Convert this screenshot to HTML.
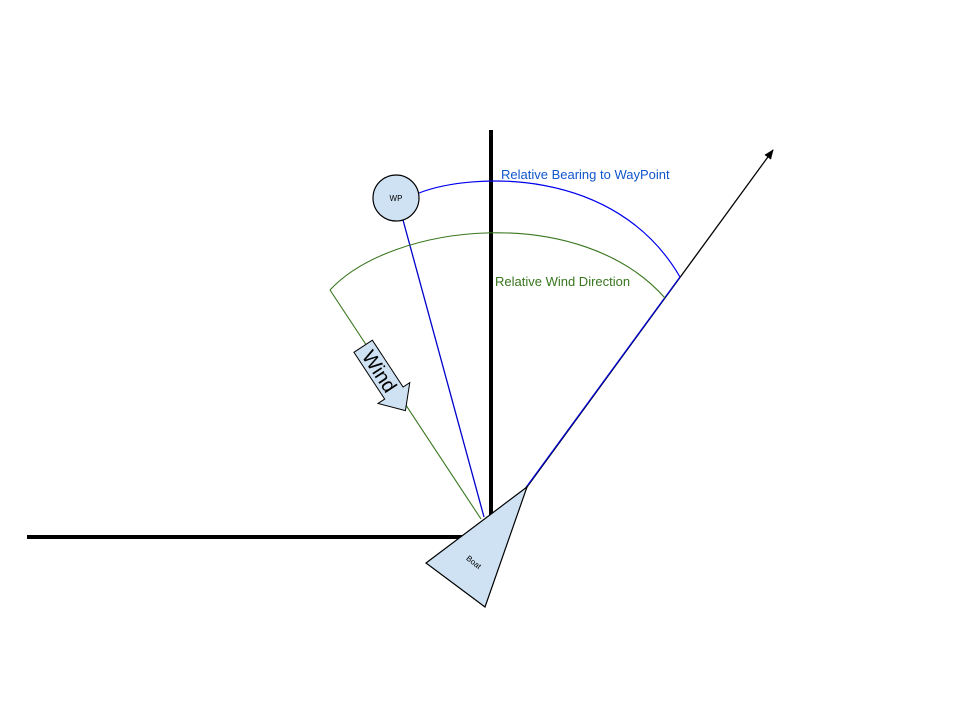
<!DOCTYPE html>
<html><head><meta charset="utf-8"><style>
html,body{margin:0;padding:0;background:#fff;}
svg{display:block;}
</style></head><body>
<svg width="960" height="720" viewBox="0 0 960 720" xmlns="http://www.w3.org/2000/svg">
  <defs>
    <marker id="ah" markerWidth="10" markerHeight="8" refX="9" refY="4" orient="auto" markerUnits="userSpaceOnUse">
      <path d="M0,0 L10,4 L0,8 Z" fill="#000"/>
    </marker>
  </defs>
  <rect width="960" height="720" fill="#fff"/>
  <line x1="27" y1="537" x2="475" y2="537" stroke="#000" stroke-width="4"/>
  <line x1="491" y1="130" x2="491" y2="522" stroke="#000" stroke-width="4"/>
  <line x1="527" y1="487" x2="773" y2="150" stroke="#000" stroke-width="1.3" marker-end="url(#ah)"/>
  <line x1="522" y1="493" x2="680" y2="277" stroke="#0000cc" stroke-width="1.3"/>
  <line x1="403" y1="220" x2="484" y2="517" stroke="#0000cc" stroke-width="1.3"/>
  <line x1="330" y1="290" x2="481" y2="519" stroke="#38761d" stroke-width="1.1"/>
  <path d="M419,193 C470,173 615,165 680,277" fill="none" stroke="#0000ee" stroke-width="1.2"/>
  <path d="M330,290 C392,223 580,202 665,298" fill="none" stroke="#38761d" stroke-width="1.1"/>
  <text x="501" y="179" font-family="Liberation Sans, sans-serif" font-size="13" fill="#1155cc">Relative Bearing to WayPoint</text>
  <text x="495" y="286" font-family="Liberation Sans, sans-serif" font-size="13" fill="#38761d">Relative Wind Direction</text>
  <g>
    <circle cx="396" cy="198" r="23" fill="#cfe2f3" stroke="#000" stroke-width="1.2"/>
    <text x="396" y="201" text-anchor="middle" font-family="Liberation Sans, sans-serif" font-size="8" fill="#000">WP</text>
  </g>
  <g transform="translate(384,378) rotate(56.7)">
    <path d="M-38,-11 L18,-11 L18,-19 L39,0 L18,19 L18,11 L-38,11 Z" fill="#cfe2f3" stroke="#000" stroke-width="1"/>
    <text x="-8" y="7" text-anchor="middle" font-family="Liberation Sans, sans-serif" font-size="20" fill="#000">Wind</text>
  </g>
  <g>
    <path d="M527,487 L426,563 L485,607 Z" fill="#cfe2f3" stroke="#000" stroke-width="1.2"/>
    <text x="474" y="565" text-anchor="middle" font-family="Liberation Sans, sans-serif" font-size="8" fill="#000" transform="rotate(38 474 562)">Boat</text>
  </g>
</svg>
</body></html>
